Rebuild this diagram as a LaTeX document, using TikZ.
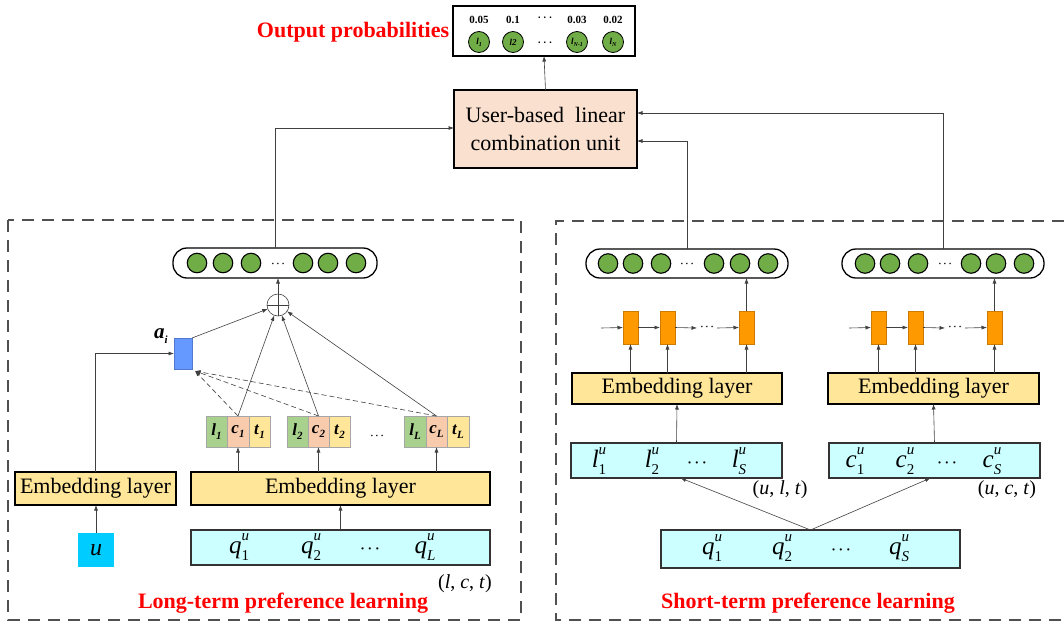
\documentclass[tikz,border=0pt]{standalone}
\usepackage{fontspec}
\setmainfont{Liberation Serif}
\usetikzlibrary{arrows.meta,calc}
\definecolor{linec}{HTML}{404040}
\definecolor{greenc}{HTML}{70AD47}
\definecolor{peachc}{HTML}{FAE0CF}
\definecolor{embc}{HTML}{FFE699}
\definecolor{cyanl}{HTML}{CCFFFF}
\definecolor{ubluec}{HTML}{00CCFF}
\definecolor{aic}{HTML}{6699FF}
\definecolor{orc}{HTML}{FF9900}
\definecolor{cgreen}{HTML}{A9D18E}
\definecolor{cpeach}{HTML}{F8CBAD}
\definecolor{cyell}{HTML}{FFE699}
\definecolor{redc}{HTML}{FF0000}
\definecolor{dashc}{HTML}{505050}
\newcommand\subsz{\fontsize{15}{15}\selectfont}
\newcommand\su[2]{\textit{#1}\rlap{\raisebox{0.5em}{\subsz\textit{u}}}\raisebox{-0.28em}{\subsz #2}}
\newcommand\tl[2]{\textbf{\textit{#1}}\raisebox{-0.25em}{\fontsize{11}{11}\selectfont\bfseries\itshape #2}}
\newcommand\ol[2]{\textbf{\textit{#1}}\raisebox{-0.2em}{\fontsize{6}{6}\selectfont\bfseries\itshape #2}}
\newcommand\mydots{{\boldmath$\cdots$}}
\begin{document}
\begin{tikzpicture}[x=1pt,y=-1pt,
  every node/.style={inner sep=0pt, outer sep=0pt},
  conn/.style={draw=linec, line width=0.6pt, -{Latex[length=5.5pt,width=4pt]}},
  dconn/.style={conn, dash pattern=on 5pt off 3pt},
  gc/.style={circle, fill=greenc, draw=black, line width=1.1pt, minimum size=19.5pt},
  oc/.style={circle, fill=greenc, draw=black, line width=0.8pt, minimum size=21pt, font=\fontsize{9}{9}\selectfont},
  vec/.style={draw=black, line width=1.3pt, rounded corners=14pt, fill=white},
  emb/.style={draw=black, line width=1.3pt, fill=embc, font=\fontsize{22}{22}\selectfont},
  seq/.style={draw=black!80, line width=1.1pt, fill=cyanl, font=\fontsize{25}{25}\selectfont},
  sdots/.style={font=\fontsize{14}{14}\selectfont},
  cell/.style={minimum width=21.5pt, minimum height=31pt, draw=gray!70, line width=0.5pt, font=\fontsize{17}{17}\selectfont},
  orr/.style={fill=orc, draw=orc!80!black, line width=0.3pt, minimum width=15pt, minimum height=33pt},
  dbox/.style={draw=dashc, line width=1.5pt, dash pattern=on 12pt off 8pt},
  lab/.style={text=redc, font=\fontsize{22}{22}\selectfont\bfseries},
  val/.style={font=\fontsize{11}{11}\selectfont\bfseries},
  tup/.style={font=\fontsize{20}{20}\selectfont}]
\useasboundingbox (0,0) rectangle (1064,624);

% dashed group boxes
\draw[dbox] (8,220) rectangle (521,620);
\draw[dbox] (1064,221) -- (556,221) -- (556,620) -- (1064,620);

% output probabilities
\node[draw=black, line width=1.3pt, fill=white, minimum width=182pt, minimum height=50pt] (outbox) at (544,31) {};
\node[val] (v1) at (479,20) {0.05};
\node[val] (v2) at (513,20) {0.1};
\node[val] (v3) at (545,18) {\mydots};
\node[val] (v4) at (577,20) {0.03};
\node[val] (v5) at (613,20) {0.02};
\node[oc] (o1) at (479,42) {\ol{l}{1}};
\node[oc] (o2) at (513,42) {\textbf{\textit{l2}}};
\node[val] (o3) at (545,43) {\mydots};
\node[oc] (o4) at (577,42) {\ol{l}{N-1}};
\node[oc] (o5) at (613,42) {\ol{l}{N}};
\node[lab] (outlab) at (353,32) {Output probabilities};

% user-based unit
\node[draw=black, line width=1.3pt, fill=peachc, minimum width=183pt, minimum height=78pt, align=center, font=\fontsize{22}{28}\selectfont] (ubox) at (545.5,129) {User-based\ \ linear\\combination unit};
\draw[conn] (ubox.north) -- (outbox.south);

% ---------------- long-term ----------------
\node[vec, minimum width=204pt, minimum height=30pt] (vL) at (275,263) {};
\foreach \x/\n in {197/a,223/b,251/c,303/d,328/e,356/f} \node[gc] (vL\n) at (\x,263) {};
\node (vLd) at (278,264) {\mydots};

\node[circle, draw=linec, line width=0.6pt, minimum size=22pt, fill=white] (op) at (278,305) {};
\draw[linec, line width=0.5pt] (op.north) -- (op.south) (op.west) -- (op.east);
\draw[conn] (op.north) -- (op.north |- vL.south);

\node[fill=aic, draw=aic!80!black, line width=0.3pt, minimum width=18pt, minimum height=31pt] (ai) at (183,353.5) {};
\node[font=\fontsize{21}{21}\selectfont] (ailab) at (161,336) {\tl{a}{i}};

% triplets
\node[cell, fill=cgreen] (l1) at (216.5,431.5) {\tl{l}{1}};
\node[cell, fill=cpeach] (c1) at (238,431.5) {\tl{c}{1}};
\node[cell, fill=cyell] (t1) at (259.5,431.5) {\tl{t}{1}};
\node[cell, fill=cgreen] (l2) at (297.5,431.5) {\tl{l}{2}};
\node[cell, fill=cpeach] (c2) at (318.5,431.5) {\tl{c}{2}};
\node[cell, fill=cyell] (t2) at (339.5,431.5) {\tl{t}{2}};
\node (tdots) at (377,436) {\mydots};
\node[cell, fill=cgreen] (l3) at (415,431.5) {\tl{l}{L}};
\node[cell, fill=cpeach] (c3) at (436.5,431.5) {\tl{c}{L}};
\node[cell, fill=cyell] (t3) at (458,431.5) {\tl{t}{L}};

\draw[conn] (ai.north east) -- (op);
\foreach \c in {c1,c2,c3} {
  \draw[conn] (\c.north) -- (op);
  \draw[dconn] (\c.north) -- ($(ai.south east)+(3,2)$);
}

\node[emb, minimum width=161pt, minimum height=33pt] (emb1) at (95.5,488.5) {Embedding layer};
\node[emb, minimum width=299pt, minimum height=33pt] (emb2) at (340.5,488.5) {Embedding layer};
\node[fill=ubluec, minimum width=36pt, minimum height=34pt, font=\fontsize{24}{24}\selectfont\itshape] (ubx) at (96,550) {u};
\node[seq, minimum width=299pt, minimum height=35pt] (qL) at (340.5,547.5) {};
\node[seq, draw=none, fill=none] (q1) at (239,547) {\su{q}{1}};
\node[seq, draw=none, fill=none] (q2) at (311,547) {\su{q}{2}};
\node[sdots] (qd) at (370,549) {\mydots};
\node[seq, draw=none, fill=none] (q3) at (425,547) {\su{q}{\textit{L}}};
\node[tup] (lct) at (465,584) {(\textit{l}, \textit{c}, \textit{t})};

\draw[conn] (ubx.north) -- (ubx.north |- emb1.south);
\draw[conn] (qL.north) -- (emb2.south);
\foreach \c in {c1,c2,c3} \draw[conn] (\c |- emb2.north) -- (\c.south);
\draw[conn] (emb1.north) |- (ai.west);
\draw[conn] (vL.north) |- ($(ubox.west)+(0,-1)$);

\node[lab] (ltlab) at (283,603) {Long-term preference learning};

% ---------------- short-term ----------------
\node[vec, minimum width=202pt, minimum height=29pt] (vS1) at (687,263.5) {};
\foreach \x/\n in {608/a,633/b,661/c,714/d,740/e,768/f} \node[gc] (vS1\n) at (\x,263.5) {};
\node (vS1d) at (687,264) {\mydots};
\node[vec, minimum width=202pt, minimum height=29pt] (vS2) at (943,263.5) {};
\foreach \x/\n in {865/a,890/b,918/c,971/d,996/e,1024/f} \node[gc] (vS2\n) at (\x,263.5) {};
\node (vS2d) at (945,264) {\mydots};

\draw[conn] (vS1.north) |- ($(ubox.east)+(0,12)$);
\draw[conn] (vS2.north) |- ($(ubox.east)+(0,-16)$);

% GRU cells
\node[orr] (r1) at (630.5,327.5) {};
\node[orr] (r2) at (667.5,327.5) {};
\node[orr] (r3) at (746.5,327.5) {};
\node[orr] (r4) at (878.5,327.5) {};
\node[orr] (r5) at (915.5,327.5) {};
\node[orr] (r6) at (994.5,327.5) {};
\coordinate (s1) at (601,328);
\coordinate (s1a) at (697,328);
\coordinate (s1b) at (717,328);
\coordinate (s2) at (849,328);
\coordinate (s2a) at (945,328);
\coordinate (s2b) at (965,328);
\node (rd1) at (707,327) {\mydots};
\node (rd2) at (955,327) {\mydots};
\draw[conn] (s1) -- (r1.west);
\draw[conn] (r1.east) -- (r2.west);
\draw[conn] (r2.east) -- (s1a);
\draw[conn] (s1b) -- (r3.west);
\draw[conn] (s2) -- (r4.west);
\draw[conn] (r4.east) -- (r5.west);
\draw[conn] (r5.east) -- (s2a);
\draw[conn] (s2b) -- (r6.west);
\draw[conn] (r3.north) -- (r3.north |- vS1.south);
\draw[conn] (r6.north) -- (r6.north |- vS2.south);

\node[emb, minimum width=210pt, minimum height=31pt] (embS1) at (677,388.5) {Embedding layer};
\node[emb, minimum width=211pt, minimum height=31pt] (embS2) at (933.5,388.5) {Embedding layer};
\foreach \r in {r1,r2,r3} \draw[conn] (\r |- embS1.north) -- (\r.south);
\foreach \r in {r4,r5,r6} \draw[conn] (\r |- embS2.north) -- (\r.south);

\node[seq, minimum width=211pt, minimum height=35pt] (lbox) at (676.5,460.5) {};
\node[seq, draw=none, fill=none] (lu1) at (599,461) {\su{l}{1}};
\node[seq, draw=none, fill=none] (lu2) at (652,461) {\su{l}{2}};
\node[sdots] (lud) at (697,463) {\mydots};
\node[seq, draw=none, fill=none] (lu3) at (739,461) {\su{l}{\textit{S}}};
\node[seq, minimum width=211pt, minimum height=35pt] (cbox) at (934.5,460.5) {};
\node[seq, draw=none, fill=none] (cu1) at (855,461) {\su{c}{1}};
\node[seq, draw=none, fill=none] (cu2) at (905,461) {\su{c}{2}};
\node[sdots] (cud) at (947,463) {\mydots};
\node[seq, draw=none, fill=none] (cu3) at (992,461) {\su{c}{\textit{S}}};
\node[tup] (ult) at (780,490) {(\textit{u}, \textit{l}, \textit{t})};
\node[tup] (uct) at (1007,490) {(\textit{u}, \textit{c}, \textit{t})};

\draw[conn] (lbox.north) -- (embS1.south);
\draw[conn] (cbox.north) -- (embS2.south);

\node[seq, minimum width=299pt, minimum height=38pt] (qS) at (810.5,549) {};
\node[seq, draw=none, fill=none] (qs1) at (712,548) {\su{q}{1}};
\node[seq, draw=none, fill=none] (qs2) at (782,548) {\su{q}{2}};
\node[sdots] (qsd) at (841,550) {\mydots};
\node[seq, draw=none, fill=none] (qs3) at (899,548) {\su{q}{\textit{S}}};
\draw[conn] (qS.north) -- ($(lbox.south)+(4,0)$);
\draw[conn] (qS.north) -- ($(cbox.south)+(-4,0)$);

\node[lab] (stlab) at (808,603) {Short-term preference learning};
\end{tikzpicture}
\end{document}
